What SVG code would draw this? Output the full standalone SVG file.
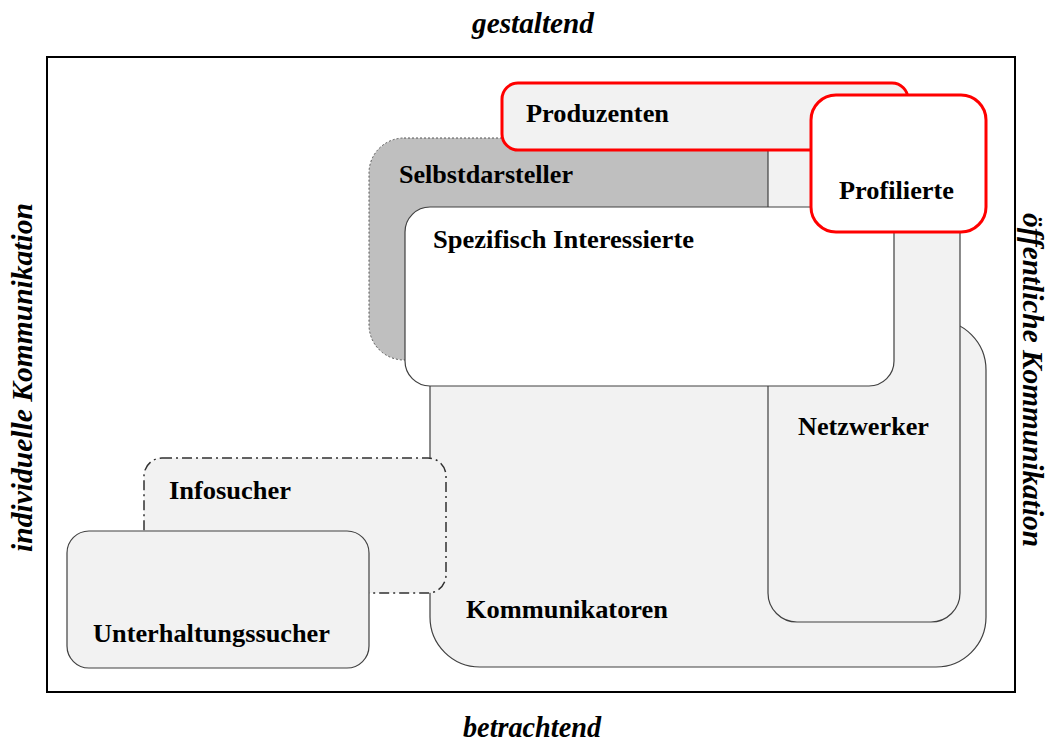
<svg xmlns="http://www.w3.org/2000/svg" width="1054" height="742" viewBox="0 0 1054 742">
  <style>
    .lbl { font-family: "Liberation Serif", "Times New Roman", serif; font-weight: bold; font-size: 26px; fill: #000; }
    .axis { font-family: "Liberation Serif", "Times New Roman", serif; font-weight: bold; font-style: italic; font-size: 29px; fill: #000; }
    .box { fill: #f2f2f2; stroke: #404040; stroke-width: 1.2; }
    .white { fill: #ffffff; stroke: #404040; stroke-width: 1.2; }
    .red { stroke: #ff0000; stroke-width: 3; }
    .dotted { fill: #bfbfbf; stroke: #555555; stroke-width: 1; stroke-dasharray: 2 2; }
    .dashdot { fill: #f2f2f2; stroke: #303030; stroke-width: 1.5; stroke-dasharray: 10 4 2 4; }
  </style>

  <rect width="1054" height="742" fill="#ffffff"/>

  <!-- outer frame -->
  <rect x="47" y="57" width="968" height="635" fill="none" stroke="#000" stroke-width="2"/>

  <!-- axis labels -->
  <g id="axes">
    <text class="axis" x="472" y="33" textLength="122" lengthAdjust="spacingAndGlyphs">gestaltend</text>
    <text class="axis" x="463" y="737" textLength="138" lengthAdjust="spacingAndGlyphs">betrachtend</text>
    <text class="axis" transform="translate(32,552) rotate(-90)" x="0" y="0" textLength="349" lengthAdjust="spacingAndGlyphs">individuelle Kommunikation</text>
    <text class="axis" transform="translate(1023,213) rotate(90)" x="0" y="0" textLength="334" lengthAdjust="spacingAndGlyphs">öffentliche Kommunikation</text>
  </g>

  <!-- nodes, back to front -->
  <g id="kommunikatoren">
    <rect class="box" x="430" y="320" width="556" height="347" rx="50"/>
    <text class="lbl" x="466" y="618" textLength="202" lengthAdjust="spacingAndGlyphs">Kommunikatoren</text>
  </g>

  <g id="selbstdarsteller">
    <rect class="dotted" x="369" y="138" width="480" height="222" rx="35"/>
    <text class="lbl" x="399" y="183" textLength="174" lengthAdjust="spacingAndGlyphs">Selbstdarsteller</text>
  </g>

  <g id="netzwerker">
    <rect class="box" x="768" y="100" width="192" height="522" rx="29"/>
    <text class="lbl" x="798" y="435" textLength="131" lengthAdjust="spacingAndGlyphs">Netzwerker</text>
  </g>

  <g id="produzenten">
    <rect class="box red" x="502" y="83" width="406" height="67" rx="16"/>
    <text class="lbl" x="526" y="122" textLength="143" lengthAdjust="spacingAndGlyphs">Produzenten</text>
  </g>

  <g id="spezifisch-interessierte">
    <rect class="white" x="405" y="207" width="489" height="179" rx="25"/>
    <text class="lbl" x="433" y="248" textLength="261" lengthAdjust="spacingAndGlyphs">Spezifisch Interessierte</text>
  </g>

  <g id="infosucher">
    <rect class="dashdot" x="144" y="458" width="302" height="135" rx="18"/>
    <text class="lbl" x="169" y="499" textLength="122" lengthAdjust="spacingAndGlyphs">Infosucher</text>
  </g>

  <g id="unterhaltungssucher">
    <rect class="box" x="67" y="531" width="302" height="137" rx="22"/>
    <text class="lbl" x="93" y="642" textLength="237" lengthAdjust="spacingAndGlyphs">Unterhaltungssucher</text>
  </g>

  <g id="profilierte">
    <rect class="white red" x="811" y="95" width="175" height="137" rx="25"/>
    <text class="lbl" x="839" y="199" textLength="115" lengthAdjust="spacingAndGlyphs">Profilierte</text>
  </g>

  <!-- no connectors in this figure -->
  <g id="connectors"/>
</svg>
